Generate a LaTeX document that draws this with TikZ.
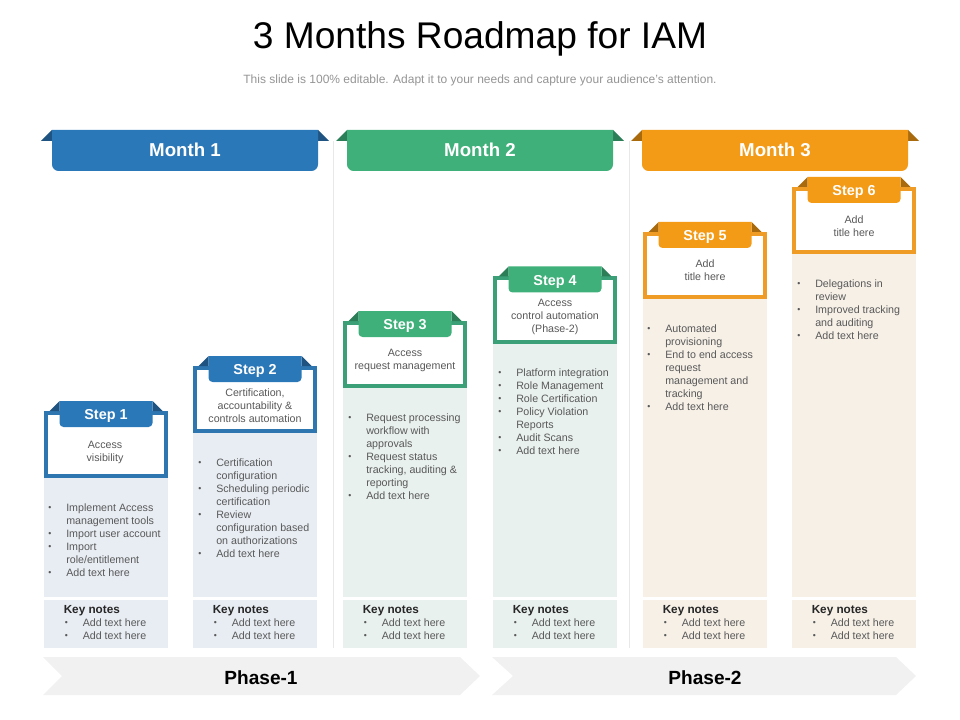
\documentclass[tikz,border=0pt]{standalone}
\usepackage{fontspec}
\setmainfont{Liberation Sans}
\definecolor{bandblue}{HTML}{2B78B8}
\definecolor{darkblue}{HTML}{1F5482}
\definecolor{bandgreen}{HTML}{3FB07A}
\definecolor{darkgreen}{HTML}{2B7E57}
\definecolor{bandorange}{HTML}{F39A16}
\definecolor{darkorange}{HTML}{A96A0E}
\definecolor{frameblue}{HTML}{2E76B0}
\definecolor{framegreen}{HTML}{3BA077}
\definecolor{frameorange}{HTML}{EE9C26}
\definecolor{tintblue}{HTML}{E8EDF3}
\definecolor{tintgreen}{HTML}{E8F1ED}
\definecolor{tintorange}{HTML}{F6F0E7}
\definecolor{phasegray}{HTML}{F1F1F1}
\definecolor{sepgray}{HTML}{E8E8E8}
\definecolor{bodygray}{HTML}{595959}
\newcommand{\bul}{\makebox[13.5pt][l]{\raisebox{0.4pt}{\fontsize{6.5}{6.5}\selectfont •}}\strut}
\newcommand{\cnt}{\hspace*{13.5pt}}
\tikzset{
  monthlabel/.style={text=white,font=\fontsize{14}{16}\selectfont\bfseries,inner sep=0pt,minimum width=199.5pt,minimum height=30pt},
  steplabel/.style={text=white,font=\fontsize{10.8}{12}\selectfont\bfseries,inner sep=0pt,minimum width=69.75pt,minimum height=19.5pt},
  stepframe/.style={draw,fill=white,line width=3pt,minimum width=90pt,minimum height=47.25pt,inner sep=0pt},
  titletext/.style={text=bodygray,font=\fontsize{8}{9.75}\selectfont,align=center,inner sep=0pt},
  listtext/.style={text=bodygray,font=\fontsize{8}{9.75}\selectfont,align=left,inner sep=0pt,anchor=north west},
  keyhead/.style={text=black!85,font=\fontsize{8.8}{10}\selectfont\bfseries,inner sep=0pt,anchor=west},
  phaselabel/.style={text=black,font=\fontsize{14.3}{16}\selectfont\bfseries,inner sep=0pt}
}
\begin{document}
\begin{tikzpicture}[x=0.75pt,y=-0.75pt]
  \useasboundingbox (0,0) rectangle (960,720);

  \node[font=\fontsize{27.85}{30}\selectfont,inner sep=0pt] (title) at (480,39) {3 Months Roadmap for IAM};
  \node[text=black!42,font=\fontsize{9}{10}\selectfont,inner sep=0pt] (subtitle) at (480,80) {This slide is 100\% editable. Adapt it to your needs and capture your audience's attention.};

  % separators
  \coordinate (sepAtop) at (333,141);
  \coordinate (sepAbot) at (333,648);
  \coordinate (sepBtop) at (629,141);
  \coordinate (sepBbot) at (629,648);
  \draw[sepgray,line width=0.6pt] (sepAtop) -- (sepAbot);
  \draw[sepgray,line width=0.6pt] (sepBtop) -- (sepBbot);

  % month bands
  \foreach \n/\x/\c/\d/\t in {A/185/bandblue/darkblue/Month 1,B/480/bandgreen/darkgreen/Month 2,C/775/bandorange/darkorange/Month 3} {
    \fill[\d] (\x-133,130) -- (\x-144,141) -- (\x-133,141) -- cycle;
    \fill[\d] (\x+133,130) -- (\x+144,141) -- (\x+133,141) -- cycle;
    \fill[\c] (\x-133,130) -- (\x+133,130) [rounded corners=5pt] -- (\x+133,171) -- (\x-133,171) [sharp corners] -- cycle;
    \fill[left color=\c,middle color=\d,right color=\c] (\x-90,169.5) rectangle (\x+90,171);
    \node[monthlabel] (month\n) at (\x,149.5) {\t};
  }

  % body and key note panels
  \foreach \n/\x/\y/\c in {A/106/478/tintblue,B/255/433/tintblue,C/405/388/tintgreen,D/555/344/tintgreen,E/705/299/tintorange,F/854/254/tintorange} {
    \fill[\c] (\x-62,\y) rectangle (\x+62,597);
    \fill[\c] (\x-62,600) rectangle (\x+62,648);
    \node[keyhead] (key\n) at (\x-42.5,610.5) {Key notes};
    \node[listtext] (keylist\n) at (\x-41.5,617) {\bul Add text here\\\bul Add text here};
  }

  % steps
  \foreach \n/\x/\y/\c/\d/\f/\t in {A/106/414/bandblue/darkblue/frameblue/Step 1,B/255/369/bandblue/darkblue/frameblue/Step 2,C/405/324/bandgreen/darkgreen/framegreen/Step 3,D/555/279.5/bandgreen/darkgreen/framegreen/Step 4,E/705/235/bandorange/darkorange/frameorange/Step 5,F/854/190/bandorange/darkorange/frameorange/Step 6} {
    \node[stepframe,draw=\f] (frame\n) at (\x,\y+30.5) {};
    \fill[\d] (\x-46.5,\y-13) -- (\x-56.5,\y-3) -- (\x-46.5,\y-3) -- cycle;
    \fill[\d] (\x+46.5,\y-13) -- (\x+56.5,\y-3) -- (\x+46.5,\y-3) -- cycle;
    \fill[\c] (\x-46.5,\y-13) -- (\x+46.5,\y-13) [rounded corners=3pt] -- (\x+46.5,\y+13) -- (\x-46.5,\y+13) [sharp corners] -- cycle;
    \node[steplabel] (step\n) at (\x,\y+2) {\t};
  }

  \node[titletext] (titleA) at (105,452.5) {Access\\visibility};
  \node[titletext] (titleB) at (255,406) {Certification,\\accountability \&\\controls automation};
  \node[titletext] (titleC) at (405,360.5) {Access\\request management};
  \node[titletext] (titleD) at (555,317) {Access\\control automation\\(Phase-2)};
  \node[titletext] (titleE) at (705,270.5) {Add\\title here};
  \node[titletext] (titleF) at (854,226.5) {Add\\title here};

  \node[listtext] (listA) at (48,502) {\bul Implement Access\\\cnt management tools\\\bul Import user account\\\bul Import\\\cnt role/entitlement\\\bul Add text here};
  \node[listtext] (listB) at (198,457) {\bul Certification\\\cnt configuration\\\bul Scheduling periodic\\\cnt certification\\\bul Review\\\cnt configuration based\\\cnt on authorizations\\\bul Add text here};
  \node[listtext] (listC) at (348,412) {\bul Request processing\\\cnt workflow with\\\cnt approvals\\\bul Request status\\\cnt tracking, auditing \&\\\cnt reporting\\\bul Add text here};
  \node[listtext] (listD) at (498,367) {\bul Platform integration\\\bul Role Management\\\bul Role Certification\\\bul Policy Violation\\\cnt Reports\\\bul Audit Scans\\\bul Add text here};
  \node[listtext] (listE) at (647,323) {\bul Automated\\\cnt provisioning\\\bul End to end access\\\cnt request\\\cnt management and\\\cnt tracking\\\bul Add text here};
  \node[listtext] (listF) at (797,278) {\bul Delegations in\\\cnt review\\\bul Improved tracking\\\cnt and auditing\\\bul Add text here};

  % phases
  \fill[phasegray] (43,657) -- (460,657) -- (480,676) -- (460,695) -- (43,695) -- (62,676) -- cycle;
  \fill[phasegray] (492,657) -- (896,657) -- (916,676) -- (896,695) -- (492,695) -- (513,676) -- cycle;
  \node[phaselabel] (phaseA) at (261,678) {Phase-1};
  \node[phaselabel] (phaseB) at (705,678) {Phase-2};
\end{tikzpicture}
\end{document}
